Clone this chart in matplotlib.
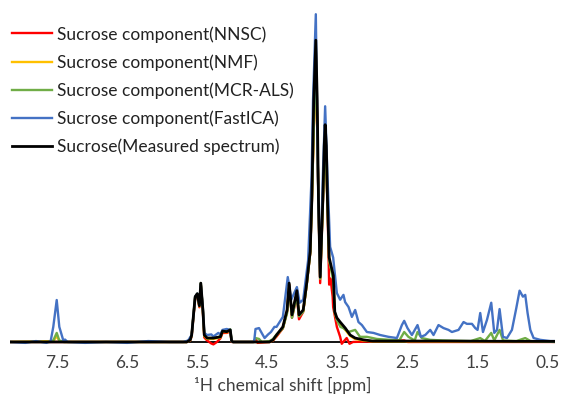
import matplotlib
matplotlib.use("Agg")
import matplotlib.pyplot as plt

plt.rcParams['font.family'] = ['Lato', 'DejaVu Sans']

# values: (ppm, intensity), black main peak = 100
nnsc_ppm = [8.17, 5.65, 5.60, 5.58, 5.53, 5.50, 5.47, 5.45, 5.42, 5.40, 5.36, 5.30, 5.27, 5.22, 5.17,
            5.14, 5.08, 5.03, 5.01, 4.70, 4.67, 4.64, 4.47, 4.42, 4.37, 4.28, 4.22, 4.19, 4.15, 4.08,
            4.05, 3.99, 3.94, 3.89, 3.867, 3.81, 3.772, 3.748, 3.71, 3.677, 3.644, 3.62, 3.60, 3.57,
            3.563, 3.51, 3.463, 3.44, 3.40, 3.37, 3.33, 3.28, 2.55, 2.50, 0.40]
nnsc_int = [0, 0, 0.5, 2, 14.5, 15.5, 11.5, 19, 10, 1.5, 0.5, -0.5, -0.8, 0, 1.2,
            3, 3, 3.5, 0, 0, 1.0, -0.3, 0, 0.5, 1.8, 4.5, 10, 19, 8, 15.5,
            7.5, 10, 19, 29.5, 46, 97, 46, 19.5, 46, 71, 46, 19, 21, 15,
            11.6, 5, 1.7, -0.6, 0.5, 1.3, -0.6, 0, 0.5, 0, 0]

nmf_ppm = [8.17, 7.55, 7.504, 7.467, 7.40, 5.65, 5.60, 5.58, 5.53, 5.50, 5.47, 5.45, 5.42, 5.40, 5.36,
           5.27, 5.17, 5.14, 5.08, 5.03, 5.01, 4.99, 4.47, 4.42, 4.37, 4.28, 4.22, 4.19, 4.15, 4.08,
           4.05, 3.99, 3.94, 3.89, 3.867, 3.81, 3.772, 3.748, 3.71, 3.677, 3.644, 3.62, 3.59, 3.56,
           3.54, 3.51, 3.463, 3.39, 3.32, 3.25, 3.13, 3.0, 0.40]
nmf_int = [0, 0.3, 2, 0.3, 0, 0, 0.6, 2.2, 14.8, 15.8, 11.8, 19.3, 10.4, 2, 1,
           1, 1.5, 3.4, 3.2, 3.8, 0.2, 0, 0, 0.6, 2.1, 4.7, 10.2, 19, 8.6, 16.5,
           8.6, 10.2, 19, 29.5, 46, 96, 46, 21, 46, 70, 46, 27, 24, 21,
           9.5, 7.5, 6, 4, 2, 1, 0.5, 0.2, 0.1]

mcr_ppm = [8.17, 7.6, 7.553, 7.504, 7.467, 7.40, 5.65, 5.60, 5.58, 5.53, 5.50, 5.47, 5.45, 5.42, 5.40,
           5.36, 5.27, 5.17, 5.14, 5.08, 5.03, 5.01, 4.99, 4.70, 4.67, 4.62, 4.58, 4.47, 4.42, 4.37,
           4.28, 4.22, 4.19, 4.15, 4.08, 4.05, 3.99, 3.94, 3.89, 3.867, 3.81, 3.772, 3.748, 3.71,
           3.677, 3.644, 3.62, 3.59, 3.56, 3.54, 3.51, 3.46, 3.416, 3.344, 3.249, 3.18, 3.082, 2.94,
           2.75, 2.62, 2.55, 2.49, 2.40, 2.36, 2.30, 2.18, 2.0, 1.60, 1.466, 1.40, 1.309, 1.266,
           1.19, 1.14, 0.95, 0.824, 0.75, 0.40]
mcr_int = [0, 0, 0.5, 3, 0.5, 0, 0, 0.7, 2.3, 15, 16, 12, 19.5, 10.6, 2.3,
           1.3, 1.3, 1.8, 3.8, 3.6, 4.2, 0.3, 0, 0, 1.3, 1, 0, 0.3, 1, 2.5,
           4.5, 9.5, 18.5, 8, 15.5, 8.5, 10, 19, 29.5, 46, 98, 46, 21, 46,
           71, 46, 27, 24, 20, 10, 7.3, 5, 4.6, 3.3, 4, 1.7, 1.7, 1,
           0.7, 0.5, 3.3, 1.7, 0.5, 3.3, 1.3, 0.7, 0.5, 0.3, 1.3, 0.3, 3, 0.5,
           4, 0.5, 0.3, 1.3, 0.3, 0]

ica_ppm = [8.17, 7.95, 7.80, 7.65, 7.59, 7.553, 7.504, 7.467, 7.41, 7.386, 7.35, 7.1, 6.8, 6.5, 6.2,
           5.9, 5.7, 5.63, 5.58, 5.53, 5.50, 5.47, 5.45, 5.42, 5.40, 5.36, 5.30, 5.27, 5.20, 5.17,
           5.14, 5.08, 5.03, 5.01, 4.99, 4.69, 4.67, 4.62, 4.57, 4.54, 4.49, 4.45, 4.40, 4.37, 4.28,
           4.21, 4.16, 4.08, 4.04, 3.99, 3.92, 3.87, 3.85, 3.81, 3.78, 3.748, 3.71, 3.677, 3.644,
           3.606, 3.563, 3.51, 3.463, 3.416, 3.392, 3.344, 3.296, 3.249, 3.202, 3.153, 3.082, 2.988,
           2.892, 2.774, 2.654, 2.583, 2.55, 2.503, 2.44, 2.36, 2.312, 2.25, 2.179, 2.132, 2.061,
           1.989, 1.918, 1.87, 1.775, 1.704, 1.656, 1.584, 1.537, 1.504, 1.466, 1.427, 1.37, 1.309,
           1.266, 1.227, 1.19, 1.142, 1.085, 1.014, 0.952, 0.905, 0.857, 0.824, 0.791, 0.752, 0.705,
           0.61, 0.467, 0.396]
ica_int = [0, -0.3, 0.3, -0.3, 0.3, 5, 13.9, 5, 0.5, 0.8, 0, -0.3, 0, -0.3, 0.3,
           0, 0, 0.5, 2.3, 15, 16, 12.5, 19.2, 11, 3, 2.3, 2.5, 1.8, 3, 2.5,
           4, 4.3, 4, 0.3, 0, 0, 4.3, 4.6, 2.5, 1.3, 2.5, 3.3, 5, 5, 8.3,
           21.5, 14, 18.2, 13, 14, 27, 55, 80, 108.6, 55, 22, 55, 78.1, 55,
           31.5, 28, 16.2, 14, 15.6, 13.2, 11.6, 8.3, 10.6, 6.6, 5.6, 3.3, 3,
           2.3, 1.7, 1.3, 5.6, 7, 4.6, 2.3, 5.6, 1.7, 2.3, 4, 2.3, 5.6,
           4.6, 4, 3.3, 4, 6.6, 6, 6, 4.6, 4, 9.6, 3.3, 7.3, 13,
           3, 4, 10.9, 1.7, 1.3, 4, 11.2, 17, 15, 15.6, 9.6, 4, 1.3,
           0.7, 0.3, 0.3]

meas_ppm = [8.17, 5.65, 5.60, 5.58, 5.53, 5.50, 5.47, 5.45, 5.42, 5.40, 5.36, 5.27, 5.17, 5.14, 5.08,
            5.03, 5.01, 4.99, 4.47, 4.42, 4.37, 4.28, 4.22, 4.19, 4.15, 4.08, 4.05, 3.99, 3.94, 3.89,
            3.867, 3.84, 3.81, 3.79, 3.772, 3.748, 3.71, 3.69, 3.677, 3.66, 3.644, 3.62, 3.59, 3.56,
            3.54, 3.51, 3.463, 3.39, 3.32, 3.25, 3.13, 3.0, 2.0, 1.0, 0.40]
meas_int = [0, 0, 0.7, 2.3, 15, 16, 12, 19.5, 10.6, 2.3, 1.3, 1.3, 1.7, 3.6, 3.4,
            4, 0.3, 0, 0, 0.7, 2.3, 5, 10.6, 19.5, 9, 17, 9, 10.6, 19.5, 30,
            47, 80, 100, 80, 47, 21.5, 47, 65, 72, 65, 47, 28, 25, 22,
            10, 8, 6.6, 4.6, 2.3, 1.3, 0.7, 0.3, 0.3, 0.2, 0.2]

labels = ['Sucrose component(NNSC)', 'Sucrose component(NMF)', 'Sucrose component(MCR-ALS)',
          'Sucrose component(FastICA)', 'Sucrose(Measured spectrum)']
colors = ['#FF0000', '#FFC000', '#70AD47', '#4472C4', '#000000']
tick_vals = [7.5, 6.5, 5.5, 4.5, 3.5, 2.5, 1.5, 0.5]

fig = plt.figure(figsize=(5.68, 4.08), dpi=100)
ax = fig.add_axes([10/568, 60/408, 545/568, 338/408])

series = [(nnsc_ppm, nnsc_int), (nmf_ppm, nmf_int), (mcr_ppm, mcr_int),
          (ica_ppm, ica_int), (meas_ppm, meas_int)]
for (xs, ys), lab, c in zip(series, labels, colors):
    lw = 2.0 if c == '#000000' else 1.7
    ax.plot(xs, ys, color=c, lw=lw, label=lab, solid_joinstyle='round')

ax.axhline(0, color='black', lw=1.3, zorder=1)
ax.set_xlim(8.17, 0.40)
ax.set_ylim(-2, 110)
for s in ax.spines.values():
    s.set_visible(False)
ax.set_yticks([])
ax.set_xticks(tick_vals)
ax.set_xticklabels([str(t) for t in tick_vals])
ax.tick_params(axis='x', length=0, pad=5, labelsize=12.5, labelcolor='#404040')
ax.set_xlabel('¹H chemical shift [ppm]', fontsize=12.5, color='#404040', labelpad=4)

ax.legend(loc='upper left', bbox_to_anchor=(12/568, 1 - 26/408), bbox_transform=fig.transFigure,
          frameon=False, borderpad=0, borderaxespad=0, handlelength=2.3, handletextpad=0.3,
          labelspacing=0.66, fontsize=12.5, labelcolor='#222222')

fig.savefig('out.png', dpi=100)
